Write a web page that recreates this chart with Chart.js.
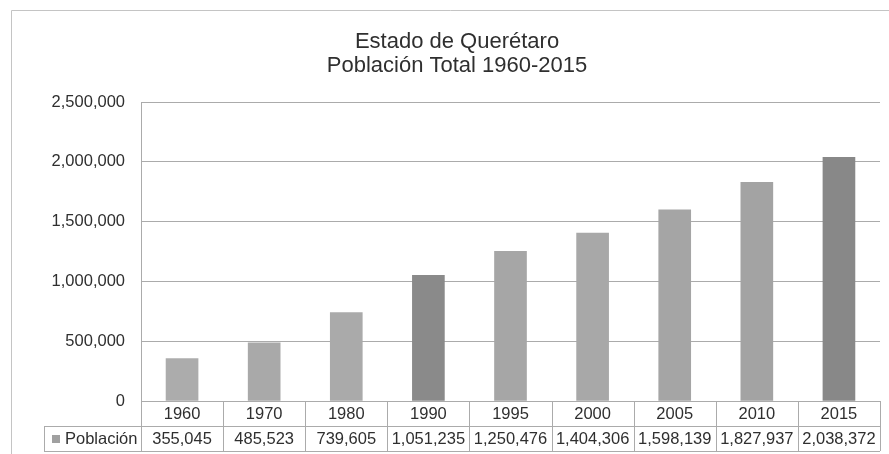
<!DOCTYPE html>
<html>
<head>
<meta charset="utf-8">
<script src="https://cdn.jsdelivr.net/npm/chart.js@4/dist/chart.umd.min.js"></script>
<style>
  html, body { margin: 0; padding: 0; background: #ffffff; }
  #wrap { width: 889px; height: 454px; position: relative; }
</style>
</head>
<body>
<div id="wrap"><canvas id="c" width="889" height="454"></canvas></div>
<script>
// ---- data ----
const years = ['1960', '1970', '1980', '1990', '1995', '2000', '2005', '2010', '2015'];
const poblacion = [355045, 485523, 739605, 1051235, 1250476, 1404306, 1598139, 1827937, 2038372];
const seriesName = 'Población';
const titleLines = ['Estado de Querétaro', 'Población Total 1960-2015'];
const yMax = 2500000;
const yStep = 500000;

// ---- style ----
const barColors = ['#acacac', '#a9a9a9', '#aaaaaa', '#8a8a8a', '#a6a6a6', '#a8a8a8', '#a5a5a5', '#a3a3a3', '#888888'];
const FONT = "'Liberation Sans', Arial, Helvetica, sans-serif";
const textColor = '#2f2f2f';
const lineColor = '#ababab';
const fmt = v => Number(v).toLocaleString('en-US');

const frame = {
  id: 'frame',
  beforeDraw(chart) {
    const ctx = chart.ctx;
    ctx.save();
    ctx.fillStyle = '#ffffff';
    ctx.fillRect(0, 0, chart.width, chart.height);
    ctx.strokeStyle = '#c4c4c4';
    ctx.lineWidth = 1;
    ctx.beginPath();
    ctx.moveTo(11.5, chart.height);
    ctx.lineTo(11.5, 10.5);
    ctx.lineTo(chart.width, 10.5);
    ctx.stroke();
    ctx.restore();
  }
};

const dataTable = {
  id: 'dataTable',
  afterDraw(chart) {
    const ctx = chart.ctx;
    const xs = chart.scales.x;
    const n = years.length;
    const w = (xs.right - xs.left) / n;
    const top = chart.chartArea.bottom;
    const mid = top + 25;
    const bot = top + 50;
    const legLeft = 44;
    const r = v => Math.round(v) + 0.5;
    ctx.save();
    ctx.strokeStyle = lineColor;
    ctx.lineWidth = 1;
    ctx.beginPath();
    ctx.moveTo(xs.left, r(top)); ctx.lineTo(xs.right, r(top));
    ctx.moveTo(legLeft, r(mid)); ctx.lineTo(xs.right, r(mid));
    ctx.moveTo(legLeft, r(bot)); ctx.lineTo(xs.right, r(bot));
    for (let i = 0; i <= n; i++) {
      const x = r(xs.left + i * w);
      ctx.moveTo(x, top); ctx.lineTo(x, bot);
    }
    ctx.moveTo(r(legLeft), mid); ctx.lineTo(r(legLeft), bot);
    ctx.stroke();

    ctx.fillStyle = textColor;
    ctx.font = '16.5px ' + FONT;
    ctx.textAlign = 'center';
    ctx.textBaseline = 'middle';
    for (let i = 0; i < n; i++) {
      const cx = xs.getPixelForValue(i);
      ctx.fillText(years[i], cx, top + 13.5);
      ctx.fillText(fmt(poblacion[i]), cx, mid + 13);
    }
    // legend key
    ctx.fillStyle = '#a0a0a0';
    ctx.fillRect(52, mid + 9, 8, 8);
    ctx.fillStyle = textColor;
    ctx.textAlign = 'left';
    ctx.fillText(seriesName, 65, mid + 13);
    ctx.restore();
  }
};

new Chart(document.getElementById('c'), {
  type: 'bar',
  data: {
    labels: years,
    datasets: [{
      label: seriesName,
      data: poblacion,
      backgroundColor: barColors,
      borderWidth: 0,
      barThickness: 32
    }]
  },
  options: {
    responsive: false,
    animation: false,
    devicePixelRatio: 1,
    layout: { padding: { left: 34, right: 9, top: 0, bottom: 53 } },
    plugins: {
      legend: { display: false },
      tooltip: { enabled: false },
      title: {
        display: true,
        text: titleLines,
        color: textColor,
        font: { family: FONT, size: 22, weight: 'normal', lineHeight: 1.1 },
        padding: { top: 30, bottom: 23.6 }
      }
    },
    scales: {
      x: {
        display: false,
        offset: true,
        grid: { display: false }
      },
      y: {
        min: 0,
        max: yMax,
        afterFit(scale) { scale.width = 107; },
        ticks: {
          stepSize: yStep,
          padding: 16,
          color: textColor,
          font: { family: FONT, size: 16.5 },
          callback: v => fmt(v)
        },
        grid: { color: lineColor, drawTicks: false, lineWidth: 1 },
        border: { display: true, color: lineColor }
      }
    }
  },
  plugins: [frame, dataTable]
});
</script>
</body>
</html>
